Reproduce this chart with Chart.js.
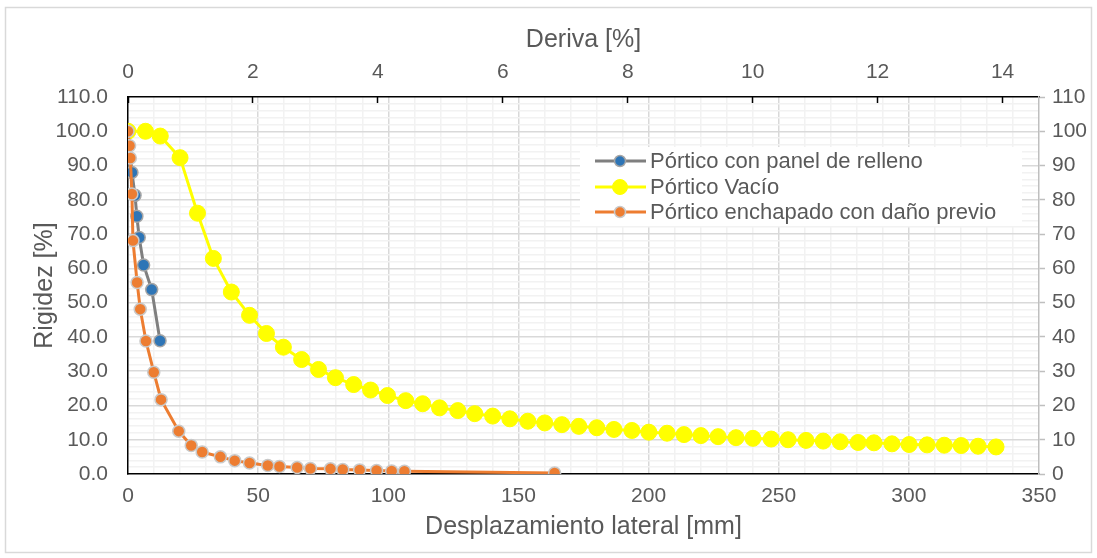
<!DOCTYPE html>
<html>
<head>
<meta charset="utf-8">
<script src="https://cdn.jsdelivr.net/npm/chart.js@4.4.0/dist/chart.umd.min.js"></script>
<style>
  html, body { margin: 0; padding: 0; background: #fff; }
  canvas { display: block; }
</style>
</head>
<body>
<canvas id="rigidezChart" width="1097" height="558"></canvas>
<script>
// Series names (legend order)
const seriesNames = ['Pórtico con panel de relleno', 'Pórtico Vacío', 'Pórtico enchapado con daño previo'];

// Pórtico con panel de relleno
const panelDesp = [0, 1.5, 2.7, 3.4, 4.3, 6.0, 9.1, 12.3];
const panelRig = [100, 88, 81.3, 75.2, 69, 61, 53.8, 38.9];

// Pórtico Vacío
const vacioDesp = [0, 6.7, 12.4, 20.0, 26.7, 32.8, 39.7, 46.7, 53.2, 59.7, 66.7, 73.2, 79.7, 86.7, 93.2,
  99.7, 106.7, 113.2, 119.7, 126.7, 133.2, 140.1, 146.7, 153.6, 160.1, 166.7, 173.2, 180.1, 186.7, 193.6,
  200.1, 207.1, 213.6, 220.1, 226.7, 233.6, 240.1, 247.1, 253.6, 260.5, 267.1, 273.6, 280.5, 286.6, 293.5,
  300.1, 307.0, 313.6, 320.1, 326.6, 333.5];
const vacioRig = [100, 100, 98.6, 92.3, 76.1, 62.9, 53.1, 46.3, 41.0, 37.0, 33.4, 30.5, 28.1, 26.1, 24.5,
  22.9, 21.4, 20.5, 19.3, 18.5, 17.6, 16.9, 16.1, 15.4, 14.9, 14.4, 13.9, 13.5, 13.0, 12.7,
  12.2, 11.9, 11.5, 11.2, 10.9, 10.6, 10.4, 10.2, 10.0, 9.8, 9.6, 9.4, 9.2, 9.1, 8.8,
  8.6, 8.5, 8.4, 8.3, 8.1, 7.9];

// Pórtico enchapado con daño previo
const enchDesp = [0, 0.6, 0.9, 1.5, 1.9, 3.5, 4.7, 6.9, 9.9, 12.7, 19.5, 24.3, 28.5, 35.5, 41.0, 46.7,
  53.7, 58.2, 65.0, 70.1, 77.8, 82.5, 89.0, 95.5, 101.3, 106.2, 163.9];
const enchRig = [100, 95.8, 92.2, 81.7, 68.1, 55.9, 48.1, 38.8, 29.7, 21.7, 12.5, 8.3, 6.4, 5.0, 3.9, 3.2,
  2.5, 2.2, 1.9, 1.6, 1.5, 1.3, 1.2, 1.0, 0.9, 0.8, 0.3];

// Axis settings
const despMax = 350;      // mm
const alturaMm = 24;      // mm of displacement per 1 % drift
const rigMax = 110;

const FONT = "'Liberation Sans', Arial, sans-serif";
const TXT = '#595959';

function toPoints(xs, ys) {
    return xs.map((x, i) => ({ x: x, y: ys[i] }));
}

// grid colour: major / minor, edges hidden (borders drawn there)
function gridColor(major, max) {
    return (ctx) => {
        const v = ctx.tick ? ctx.tick.value : null;
        if (v === null || v === 0 || v === max) return 'rgba(0,0,0,0)';
        return Math.abs(v % major) < 1e-6 ? '#D9D9D9' : '#F2F2F2';
    };
}

// Outer chart border
const frame = {
    id: 'frame',
    beforeDraw(chart) {
        const ctx = chart.ctx;
        ctx.save();
        ctx.fillStyle = '#fff';
        ctx.fillRect(0, 0, chart.width, chart.height);
        ctx.strokeStyle = '#D9D9D9';
        ctx.lineWidth = 1.5;
        ctx.strokeRect(5.5, 7.5, 1086, 545);
        ctx.restore();
    }
};

// Legend drawn inside the plot area
const innerLegend = {
    id: 'innerLegend',
    afterDatasetsDraw(chart) {
        const ctx = chart.ctx;
        ctx.save();
        ctx.fillStyle = '#fff';
        ctx.fillRect(580, 147, 442, 79);
        const rows = [161, 187, 212];
        chart.data.datasets.forEach((ds, i) => {
            const y = rows[i];
            ctx.strokeStyle = ds.borderColor;
            ctx.lineWidth = 3;
            ctx.beginPath();
            ctx.moveTo(595, y);
            ctx.lineTo(646, y);
            ctx.stroke();
            ctx.beginPath();
            ctx.arc(620, y, ds.pointRadius - 0.5, 0, Math.PI * 2);
            ctx.fillStyle = ds.pointBackgroundColor;
            ctx.fill();
            ctx.lineWidth = ds.pointBorderWidth;
            ctx.strokeStyle = ds.pointBorderColor;
            ctx.stroke();
            ctx.fillStyle = TXT;
            ctx.font = '22px ' + FONT;
            ctx.textBaseline = 'middle';
            ctx.textAlign = 'left';
            ctx.fillText(ds.label, 650, y + 1);
        });
        ctx.restore();
    }
};

const ctx = document.getElementById('rigidezChart').getContext('2d');
new Chart(ctx, {
    type: 'line',
    data: {
        datasets: [
            {
                label: seriesNames[0],
                data: toPoints(panelDesp, panelRig),
                borderColor: '#7F7F7F',
                borderWidth: 3,
                pointRadius: 6,
                pointBackgroundColor: '#2E75B6',
                pointBorderColor: '#A5A5A5',
                pointBorderWidth: 1.5,
                order: 2
            },
            {
                label: seriesNames[1],
                data: toPoints(vacioDesp, vacioRig),
                borderColor: '#FFFF00',
                borderWidth: 3,
                pointRadius: 8,
                pointBackgroundColor: '#FFFF00',
                pointBorderColor: '#FFFF00',
                pointBorderWidth: 1,
                order: 1
            },
            {
                label: seriesNames[2],
                data: toPoints(enchDesp, enchRig),
                borderColor: '#ED7D31',
                borderWidth: 3,
                pointRadius: 6,
                pointBackgroundColor: '#ED7D31',
                pointBorderColor: '#C9C9C9',
                pointBorderWidth: 1.5,
                order: 0
            }
        ]
    },
    options: {
        responsive: false,
        animation: false,
        layout: { padding: 0 },
        plugins: {
            legend: { display: false },
            tooltip: { enabled: false }
        },
        scales: {
            x: {
                type: 'linear',
                position: 'bottom',
                min: 0,
                max: despMax,
                afterFit: (s) => { s.height = 84; },
                ticks: {
                    stepSize: 10,
                    autoSkip: false,
                    maxRotation: 0,
                    padding: 10,
                    color: TXT,
                    font: { family: FONT, size: 21 },
                    callback: (v) => (v % 50 === 0 ? String(v) : '')
                },
                grid: { color: gridColor(50, despMax), lineWidth: 1.5, drawTicks: false },
                border: { color: '#000', width: 1.5 },
                title: {
                    display: true,
                    text: 'Desplazamiento lateral [mm]',
                    color: TXT,
                    font: { family: FONT, size: 25 },
                    padding: { top: 0, bottom: 16 }
                }
            },
            x2: {
                type: 'linear',
                position: 'top',
                min: 0,
                max: despMax / alturaMm,
                afterFit: (s) => { s.height = 97; },
                ticks: {
                    stepSize: 2,
                    includeBounds: false,
                    autoSkip: false,
                    maxRotation: 0,
                    padding: 18,
                    color: TXT,
                    font: { family: FONT, size: 21 }
                },
                grid: { drawOnChartArea: false, drawTicks: true, tickLength: -6, tickColor: '#000', tickWidth: 1.5 },
                border: { color: '#000', width: 1.5 },
                title: {
                    display: true,
                    text: 'Deriva [%]',
                    color: TXT,
                    font: { family: FONT, size: 25 },
                    padding: { top: 25, bottom: 0 }
                }
            },
            y: {
                type: 'linear',
                position: 'left',
                min: 0,
                max: rigMax,
                afterFit: (s) => { s.width = 128; },
                ticks: {
                    stepSize: 2,
                    autoSkip: false,
                    padding: 20,
                    color: TXT,
                    font: { family: FONT, size: 21 },
                    callback: (v) => (v % 10 === 0 ? v.toFixed(1) : '')
                },
                grid: { color: gridColor(10, rigMax), lineWidth: 1.5, drawTicks: false },
                border: { color: '#000', width: 1.5 },
                title: {
                    display: true,
                    text: 'Rigidez [%]',
                    color: TXT,
                    font: { family: FONT, size: 25 },
                    padding: { top: 30, bottom: 0 }
                }
            },
            y2: {
                type: 'linear',
                position: 'right',
                min: 0,
                max: rigMax,
                afterFit: (s) => { s.width = 58; },
                ticks: {
                    stepSize: 10,
                    autoSkip: false,
                    padding: 7,
                    color: TXT,
                    font: { family: FONT, size: 21 }
                },
                grid: { drawOnChartArea: false, drawTicks: true, tickLength: 6, tickColor: '#BFBFBF', tickWidth: 1.5 },
                border: { color: '#BFBFBF', width: 1.5 }
            }
        }
    },
    plugins: [frame, innerLegend]
});
</script>
</body>
</html>
